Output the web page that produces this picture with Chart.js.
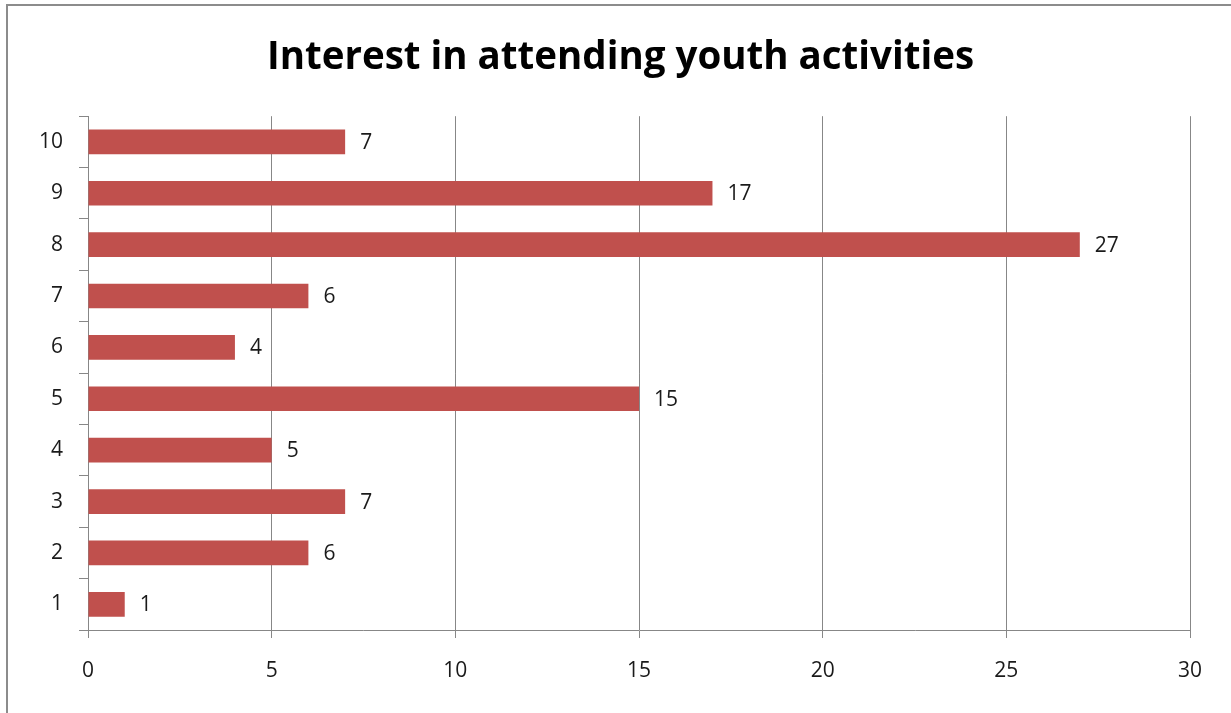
<!DOCTYPE html>
<html lang="en">
<head>
    <meta charset="UTF-8">
    <title>Interest in attending youth activities</title>
    <script src="https://cdn.jsdelivr.net/npm/chart.js"></script>
    <style>
        html, body {
            margin: 0;
            padding: 0;
            background: #fff;
            overflow: hidden;
        }
        .frame {
            position: absolute;
            left: 6px;
            top: 4px;
            width: 1240px;
            height: 730px;
            border: 2px solid #8c8c8c;
        }
        .chart-box {
            position: absolute;
            left: 0;
            top: 0;
            width: 1231px;
            height: 713px;
        }
    </style>
</head>
<body>
    <div class="frame"></div>
    <div class="chart-box">
        <canvas id="youthChart"></canvas>
    </div>

    <script>
        const chartTitle = 'Interest in attending youth activities';
        const ratings = ['1', '2', '3', '4', '5', '6', '7', '8', '9', '10'];
        const responses = [1, 6, 7, 5, 15, 4, 6, 27, 17, 7];
        const xTicks = [0, 5, 10, 15, 20, 25, 30];

        const gridGrey = '#878787';
        const tickFont = { family: "'Open Sans', sans-serif", size: 21 };

        // value labels to the right of each bar
        const barValues = {
            id: 'barValues',
            afterDatasetsDraw(chart) {
                const ctx = chart.ctx;
                const meta = chart.getDatasetMeta(0);
                ctx.save();
                ctx.font = "21px 'Open Sans', sans-serif";
                ctx.fillStyle = '#1a1a1a';
                ctx.textAlign = 'left';
                ctx.textBaseline = 'middle';
                meta.data.forEach((bar, i) => {
                    ctx.fillText(String(responses[i]), bar.x + 15, bar.y + 1);
                });
                ctx.restore();
            }
        };

        // title is centred on the framed box, not on the padded chart
        const titleSpan = {
            id: 'titleSpan',
            afterLayout(chart) {
                if (chart.titleBlock) {
                    chart.titleBlock.left = 10;
                    chart.titleBlock.right = chart.width;
                }
            }
        };

        // Chart.js draws category 1 at the top by default, so reverse the axis
        new Chart(document.getElementById('youthChart'), {
            type: 'bar',
            data: {
                labels: ratings,
                datasets: [{
                    data: responses,
                    backgroundColor: '#C0504D',
                    borderWidth: 0,
                    barPercentage: 0.48,
                    categoryPercentage: 1
                }]
            },
            options: {
                indexAxis: 'y',
                responsive: true,
                maintainAspectRatio: false,
                animation: false,
                layout: { padding: { left: 0, right: 41, top: 0, bottom: 0 } },
                plugins: {
                    legend: { display: false },
                    tooltip: { enabled: false },
                    title: {
                        display: true,
                        text: chartTitle,
                        color: '#000',
                        font: { family: "'Open Sans', sans-serif", size: 38.5, weight: 'bold' },
                        padding: { top: 35, bottom: 35 }
                    }
                },
                scales: {
                    x: {
                        min: 0,
                        max: 30,
                        afterBuildTicks: scale => {
                            scale.ticks = xTicks.map(v => ({ value: v }));
                        },
                        afterFit: scale => { scale.height = 83; },
                        grid: {
                            color: gridGrey,
                            lineWidth: 1,
                            tickLength: 8
                        },
                        border: { color: gridGrey, width: 1 },
                        ticks: {
                            color: '#1a1a1a',
                            font: tickFont,
                            padding: 20,
                            maxRotation: 0
                        }
                    },
                    y: {
                        reverse: true,
                        afterFit: scale => { scale.width = 88; },
                        grid: {
                            drawOnChartArea: false,
                            offset: true,
                            color: gridGrey,
                            tickLength: 9
                        },
                        border: { color: gridGrey, width: 1 },
                        ticks: {
                            color: '#1a1a1a',
                            font: tickFont,
                            padding: 16
                        }
                    }
                }
            },
            plugins: [barValues, titleSpan]
        });
    </script>
</body>
</html>
